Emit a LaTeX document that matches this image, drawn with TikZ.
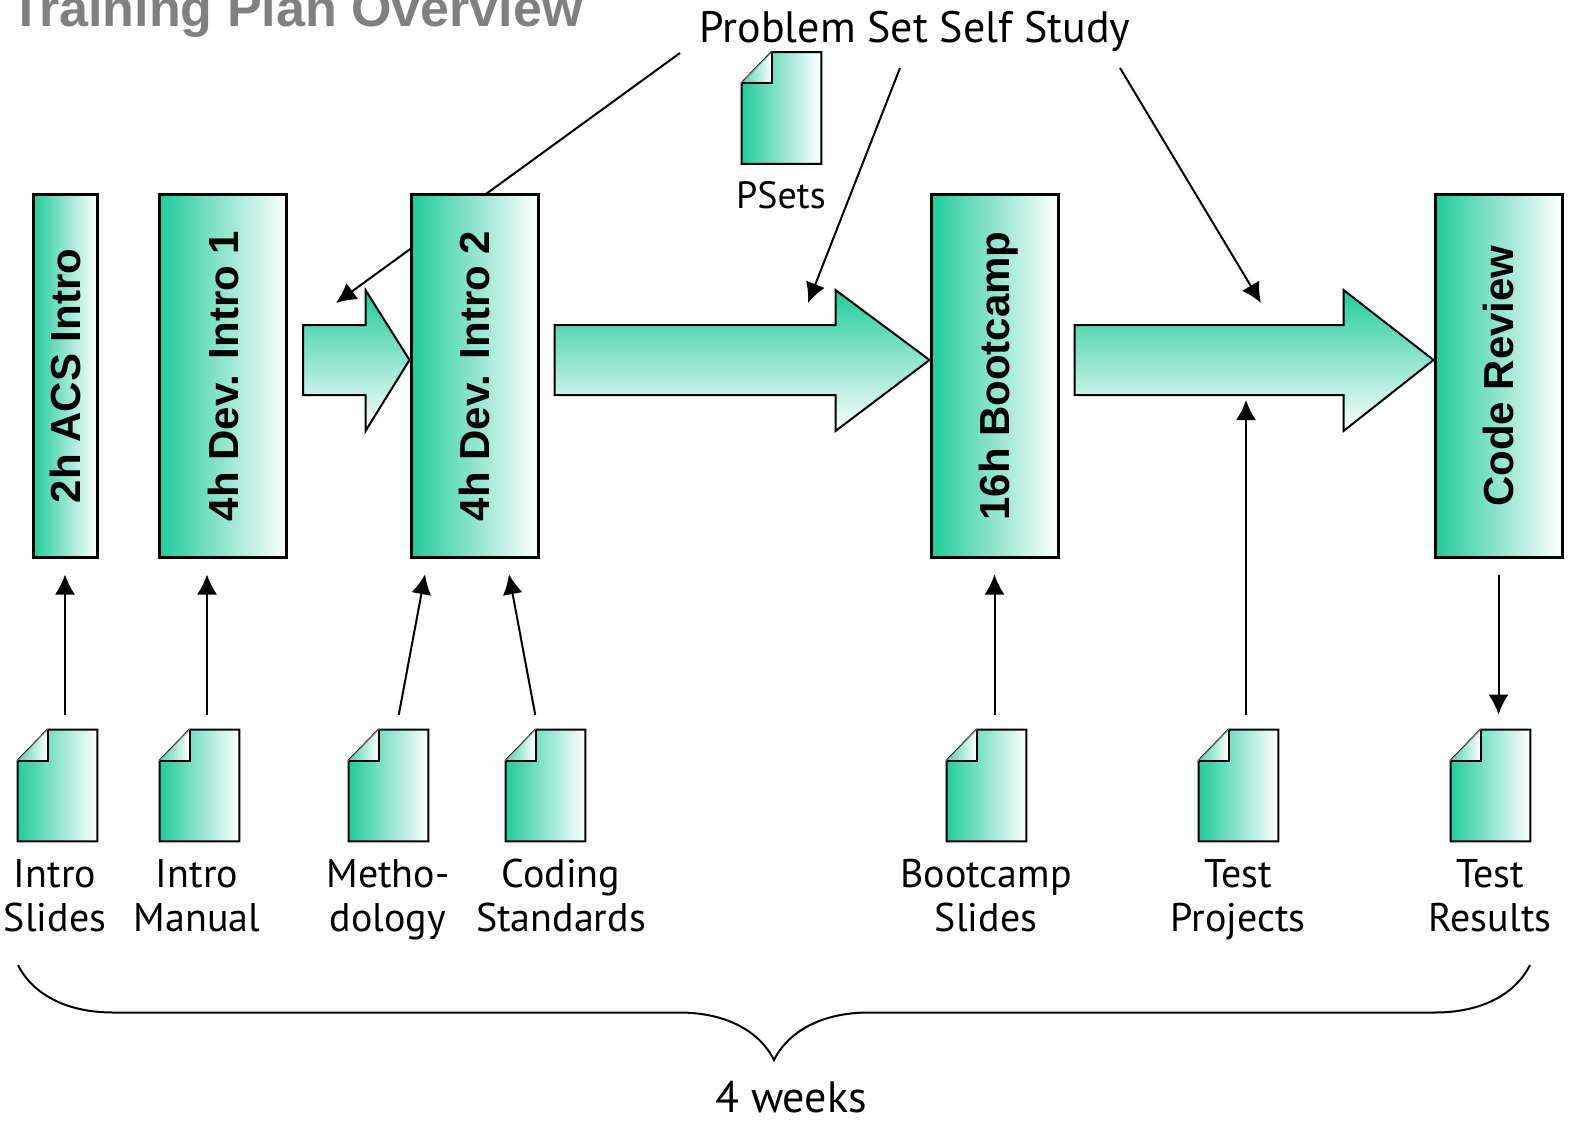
\documentclass[tikz,border=0pt]{standalone}
\usepackage{fontspec}
\setmainfont{PT Sans}
\newfontfamily\stagefont{Liberation Sans}
\usetikzlibrary{calc, arrows.meta, decorations.pathreplacing}
\definecolor{mygreen}{RGB}{33, 204, 153}
\definecolor{mygray}{RGB}{128, 128, 128}
\tikzset{>={Latex[length=10pt, width=10pt]}}
\tikzset{
  stage/.style = {draw, line width = 1.5pt, left color = mygreen, right color = white,
    minimum height = 181pt, inner sep = 0pt},
  stagetext/.style = {rotate = 90, inner sep = 0pt, text height = 15.1pt, text depth = 0pt,
    font = \stagefont\bfseries\fontsize{21pt}{24pt}\selectfont},
  doc/.style = {minimum width = 39.5pt, minimum height = 55.5pt, inner sep = 0pt},
  doclabel/.style = {align = center, inner sep = 0pt, anchor = north,
    font = \fontsize{20pt}{22pt}\selectfont},
  note/.style = {inner sep = 0pt, anchor = base, font = \fontsize{22pt}{26pt}\selectfont},
  feed/.style = {->, line width = 1pt},
  flow/.style = {top color = mygreen, bottom color = white, draw, line width = 1pt}
}
% document icon drawn on an empty node
\newcommand{\drawdoc}[1]{%
  \shadedraw[left color = mygreen, right color = white, line width = 1pt]
    ($(#1.north west)+(30,0)$) -- (#1.north east) -- (#1.south east) -- (#1.south west)
    -- ($(#1.north west)+(0,31)$) -- cycle;
  \shadedraw[left color = mygreen!80, right color = white, draw = gray, line width = 0.4pt]
    ($(#1.north west)+(30,0)$) -- ($(#1.north west)+(0,31)$) -- ($(#1.north west)+(30,31)$) -- cycle;
  \draw[line width = 1pt] ($(#1.north west)+(0,31)$) -- ($(#1.north west)+(30,31)$)
    -- ($(#1.north west)+(30,0)$);
}
% block arrow from one stage to the next
\newcommand{\blockarrow}[3]{%
  \shadedraw[flow] ($(#1.east)+(15,-51)$) -- ($(#2.west)+(-#3,-51)$) -- ($(#2.west)+(-#3,-86)$)
    -- ($(#2.west)+(0,-16)$) -- ($(#2.west)+(-#3,55)$) -- ($(#2.west)+(-#3,19)$)
    -- ($(#1.east)+(15,19)$) -- cycle;
}

\begin{document}
\begin{tikzpicture}[x = 0.5pt, y = -0.5pt]
\useasboundingbox (0,0) rectangle (1593,1139);
\clip (0,0) rectangle (1593,1139);

\node[anchor = base east, inner sep = 0pt, text = mygray,
  font = \stagefont\bfseries\fontsize{26pt}{30pt}\selectfont] (title) at (583,27) {Training Plan Overview};

% self study
\node[note] (pss) at (915,43) {Problem Set Self Study};
\coordinate (ps-a) at (680,53);
\coordinate (ps-b) at (900,68);
\coordinate (ps-c) at (1120,68);
\coordinate (in-a) at (336,303);
\coordinate (in-b) at (808,303);
\coordinate (in-c) at (1261,303);
\coordinate (in-d) at (1246,400);
\draw[feed] (ps-a) -- (in-a);
\draw[feed] (ps-b) -- (in-b);
\draw[feed] (ps-c) -- (in-c);

\node[doc] (psets) at (781.5,108) {};
\drawdoc{psets}
\node[note, font = \fontsize{19pt}{22pt}\selectfont] (psets-l) at (781,208) {PSets};

% stages
\node[stage, minimum width = 32pt] (acs) at (65,376) {};
\node[stage, minimum width = 63.5pt] (devone) at (223,376) {};
\node[stage, minimum width = 63.5pt] (devtwo) at (474.5,376) {};
\node[stage, minimum width = 63.5pt] (bootcamp) at (994.5,376) {};
\node[stage, minimum width = 63.5pt] (review) at (1498.5,376) {};
\node[stagetext] at (acs) {2h ACS Intro};
\node[stagetext] at (devone) {4h Dev. Intro 1};
\node[stagetext] at (devtwo) {4h Dev. Intro 2};
\node[stagetext] at (bootcamp) {16h Bootcamp};
\node[stagetext] at (review) {Code Review};

\blockarrow{devone}{devtwo}{44}
\blockarrow{devtwo}{bootcamp}{94}
\blockarrow{bootcamp}{review}{90}

% material
\node[doc] (slides) at (57.5,785.5) {};
\node[doc] (manual) at (199.5,785.5) {};
\node[doc] (method) at (388.5,785.5) {};
\node[doc] (coding) at (545.5,785.5) {};
\node[doc] (bootslides) at (986.5,785.5) {};
\node[doc] (projects) at (1238.5,785.5) {};
\node[doc] (results) at (1490.5,785.5) {};
\drawdoc{slides}
\drawdoc{manual}
\drawdoc{method}
\drawdoc{coding}
\drawdoc{bootslides}
\drawdoc{projects}
\drawdoc{results}

\node[doclabel] (slides-l) at (55,856) {\strut Intro\\Slides};
\node[doclabel] (manual-l) at (197,856) {\strut Intro\\Manual};
\node[doclabel] (method-l) at (388,856) {\strut Metho-\\dology};
\node[doclabel] (coding-l) at (561,856) {\strut Coding\\Standards};
\node[doclabel] (bootslides-l) at (986,856) {\strut Bootcamp\\Slides};
\node[doclabel] (projects-l) at (1238,856) {\strut Test\\Projects};
\node[doclabel] (results-l) at (1490,856) {\strut Test\\Results};

\draw[feed, shorten <= 7.5pt, shorten >= 8pt] ($(slides.north)+(7.5,0)$) -- (acs.south);
\draw[feed, shorten <= 7.5pt, shorten >= 8pt] ($(manual.north)+(7.5,0)$) -- ($(devone.south)+(-16,0)$);
\draw[feed, shorten <= 7.5pt, shorten >= 8pt] ($(method.north)+(7.5,0)$) -- ($(devtwo.south)+(-46.5,0)$);
\draw[feed, shorten <= 7.5pt, shorten >= 8pt] ($(coding.north)+(-7.5,0)$) -- ($(devtwo.south)+(31.5,0)$);
\draw[feed, shorten <= 7.5pt, shorten >= 8pt] ($(bootslides.north)+(8,0)$) -- (bootcamp.south);
\draw[feed, shorten <= 7.5pt] ($(projects.north)+(7.5,0)$) -- (in-d);
\draw[feed, shorten <= 8pt, shorten >= 7.5pt] (review.south) -- ($(results.north)+(8,0)$);

% time span
\draw[decorate, decoration = {brace, mirror, amplitude = 47.5pt}, line width = 1pt]
  (18,965) -- (1530,965);
\node[note] (weeks) at (791,1112) {4 weeks};
\end{tikzpicture}
\end{document}
